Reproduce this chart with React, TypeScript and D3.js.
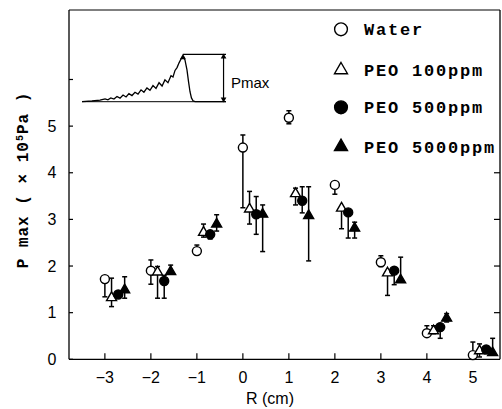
import React from "react";
import * as d3 from "d3";

const positions = [-3, -2, -1, 0, 1, 2, 3, 4, 5];
const xTicks = [-3, -2, -1, 0, 1, 2, 3, 4, 5];
const yTicks = [0, 1, 2, 3, 4, 5, 6];
const yTickLabels = ["0", "1", "2", "3", "4", "5", ""];

const waterVal = [1.72, 1.9, 2.32, 4.54, 5.18, 3.74, 2.08, 0.56, 0.09];
const waterLo = [1.34, 1.61, 2.32, 3.25, 5.05, 3.54, 1.99, 0.56, 0.0];
const waterHi = [1.72, 2.13, 2.45, 4.81, 5.33, 3.74, 2.22, 0.72, 0.37];

const peo100Val = [1.32, 1.87, 2.72, 3.22, 3.55, 3.24, 1.85, 0.61, 0.18];
const peo100Lo = [1.13, 1.31, 2.62, 2.9, 3.31, 2.8, 1.37, 0.55, 0.05];
const peo100Hi = [1.74, 1.99, 2.9, 3.6, 3.67, 3.24, 1.9, 0.72, 0.33];

const peo500Val = [1.39, 1.68, 2.68, 3.11, 3.4, 3.15, 1.9, 0.69, 0.21];
const peo500Lo = [1.39, 1.31, 2.58, 2.68, 3.14, 2.6, 1.6, 0.45, 0.21];
const peo500Hi = [1.39, 1.8, 2.75, 3.49, 3.7, 3.15, 1.95, 0.72, 0.21];

const peo5000Val = [1.49, 1.88, 2.9, 3.11, 3.08, 2.81, 1.7, 0.88, 0.14];
const peo5000Lo = [1.31, 1.88, 2.75, 2.31, 2.11, 2.6, 1.7, 0.8, 0.14];
const peo5000Hi = [1.77, 2.02, 3.1, 3.31, 3.7, 2.94, 2.19, 0.98, 0.45];

const seriesNames = ["Water", "PEO 100ppm", "PEO 500ppm", "PEO 5000ppm"];
const seriesOffsets = [0, 0.145, 0.29, 0.43];
const seriesShapes = ["circle", "triangle", "circle", "triangle"];
const seriesFilled = [false, false, true, true];

// inset waveform (arbitrary time 0..100, normalized pressure 0..1)
const insetT = [0, 6.9, 12.5, 16, 18, 20, 22.2, 24.3, 26.4, 28.5, 30.6, 32.6, 34.7, 36.8, 38.9, 41, 43, 45.1, 47.2, 49.3, 51.4, 53.5, 55.6, 57.6, 59.7, 61.8, 63.2, 64.6, 66, 67.4, 68.75, 70.1, 71.5, 72.9, 74, 75, 76, 77.1, 78.5, 100];
const insetP = [0, 0.015, 0.035, 0.06, 0.04, 0.08, 0.055, 0.11, 0.075, 0.14, 0.1, 0.17, 0.13, 0.2, 0.16, 0.25, 0.2, 0.29, 0.24, 0.34, 0.28, 0.4, 0.33, 0.46, 0.4, 0.55, 0.52, 0.66, 0.72, 0.82, 0.9, 0.96, 0.88, 0.67, 0.42, 0.21, 0.08, 0.02, 0, 0];
const pmaxStartT = 70;
const pmaxArrowT = 98.3;

const W = 502;
const H = 409;

export default function App() {
  const x = d3.scaleLinear().domain([-3.78, 5.59]).range([69, 500]);
  const y = d3.scaleLinear().domain([0, 7.49]).range([359.3, 10]);
  const tI = d3.scaleLinear().domain([0, 100]).range([82, 226]);
  const pI = d3.scaleLinear().domain([0, 1]).range([101.7, 54.3]);

  const vals = [waterVal, peo100Val, peo500Val, peo5000Val];
  const los = [waterLo, peo100Lo, peo500Lo, peo5000Lo];
  const his = [waterHi, peo100Hi, peo500Hi, peo5000Hi];

  const tri = d3.symbol().type(d3.symbolTriangle);
  const line = d3
    .line<number>()
    .x((_, i) => tI(insetT[i]))
    .y((d) => pI(d))
    .curve(d3.curveLinear);

  const marker = (shape: string, filled: boolean, cx: number, cy: number, r: number, side: number, key: string) => {
    if (shape === "circle") {
      return (
        <circle key={key} cx={cx} cy={cy} r={r} fill={filled ? "#000" : "#fff"} stroke="#000" strokeWidth={1.4} />
      );
    }
    const size = (Math.sqrt(3) / 4) * side * side;
    return (
      <path
        key={key}
        d={tri.size(size)() as string}
        transform={`translate(${cx},${cy})`}
        fill={filled ? "#000" : "#fff"}
        stroke="#000"
        strokeWidth={1.4}
      />
    );
  };

  const legendY = [29.3, 70, 107.3, 146.7];

  return (
    <svg
      width={W}
      height={H}
      style={{ position: "absolute", left: 0, top: 0, background: "#fff" }}
      fontFamily="'Liberation Sans', Arial, sans-serif"
    >
      <rect x={0} y={0} width={W} height={H} fill="#fff" />
      {/* frame */}
      <g stroke="#000" strokeWidth={1.3} fill="none">
        <line x1={x(-3.78)} x2={x(5.59)} y1={y(0)} y2={y(0)} />
        <line x1={x(-3.78)} x2={x(-3.78)} y1={y(0)} y2={y(7.49)} />
        <line x1={x(-3.78)} x2={x(5.59)} y1={y(7.49)} y2={y(7.49)} strokeWidth={1} />
        <line x1={x(5.59)} x2={x(5.59)} y1={y(0)} y2={y(7.49)} />
      </g>
      {/* ticks */}
      <g stroke="#000" strokeWidth={1.2}>
        {xTicks.map((t) => (
          <line key={t} x1={x(t)} x2={x(t)} y1={y(0)} y2={y(0) - 6} />
        ))}
        {yTicks.map((t) => (
          <line key={"l" + t} x1={x(-3.78)} x2={x(-3.78) + 4} y1={y(t)} y2={y(t)} />
        ))}
        {yTicks.slice(1, 5).map((t) => (
          <line key={"r" + t} x1={x(5.59)} x2={x(5.59) - 6} y1={y(t)} y2={y(t)} />
        ))}
      </g>
      <g fontSize={16} fill="#000" textAnchor="middle">
        {xTicks.map((t) => (
          <text key={t} x={x(t)} y={383}>
            {t < 0 ? "\u2212" + Math.abs(t) : String(t)}
          </text>
        ))}
        {yTicks.map((t, i) => (
          <text key={"y" + t} x={52} y={y(t)} dominantBaseline="central">
            {yTickLabels[i]}
          </text>
        ))}
        <text x={270} y={404}>
          R (cm)
        </text>
      </g>
      <text
        transform={`translate(28,180) rotate(-90)`}
        textAnchor="middle"
        fontFamily="'Liberation Mono', monospace"
        fontWeight="bold"
        fontSize={16}
        letterSpacing={1}
      >
        P max ( × 10<tspan dy={-5} fontSize={10}>5</tspan>
        <tspan dy={5}>Pa )</tspan>
      </text>

      {/* inset */}
      <g fill="none" stroke="#000">
        <line x1={tI(0)} x2={tI(100)} y1={pI(0)} y2={pI(0)} strokeWidth={1} />
        <path d={line(insetP) as string} strokeWidth={1.3} />
        <line x1={tI(pmaxStartT)} x2={tI(100)} y1={pI(1)} y2={pI(1)} strokeWidth={1.2} />
        <line x1={tI(pmaxArrowT)} x2={tI(pmaxArrowT)} y1={pI(1)} y2={pI(0)} strokeWidth={1.2} />
      </g>
      <path
        d={d3.symbol().type(d3.symbolTriangle).size(14)() as string}
        transform={`translate(${tI(pmaxArrowT)},${pI(1) + 2.5})`}
        fill="#000"
      />
      <path
        d={d3.symbol().type(d3.symbolTriangle).size(14)() as string}
        transform={`translate(${tI(pmaxArrowT)},${pI(0) - 2.5}) rotate(180)`}
        fill="#000"
      />
      <path
        d={d3.symbol().type(d3.symbolTriangle).size(16)() as string}
        transform={`translate(${tI(70.1)},${pI(0.93)})`}
        fill="#000"
      />
      <text x={231} y={88} fontSize={15}>
        Pmax
      </text>

      {/* error bars */}
      <g stroke="#000" strokeWidth={1.5}>
        {vals.map((sv, s) =>
          positions.map((r, i) => {
            const cx = x(r + seriesOffsets[s]);
            const lo = los[s][i];
            const hi = his[s][i];
            const v = sv[i];
            return (
              <g key={s + "-" + i}>
                {hi > v + 0.001 && (
                  <>
                    <line x1={cx} x2={cx} y1={y(v)} y2={y(hi)} />
                    <line x1={cx - 2.5} x2={cx + 2.5} y1={y(hi)} y2={y(hi)} />
                  </>
                )}
                {lo < v - 0.001 && (
                  <>
                    <line x1={cx} x2={cx} y1={y(v)} y2={y(lo)} />
                    <line x1={cx - 2.5} x2={cx + 2.5} y1={y(lo)} y2={y(lo)} />
                  </>
                )}
              </g>
            );
          })
        )}
      </g>
      {/* markers */}
      <g>
        {vals.map((sv, s) =>
          positions.map((r, i) =>
            marker(seriesShapes[s], seriesFilled[s], x(r + seriesOffsets[s]), y(sv[i]), 4.5, 10, "m" + s + "-" + i)
          )
        )}
      </g>

      {/* legend */}
      <g>
        {seriesNames.map((n, s) => (
          <g key={n}>
            {marker(seriesShapes[s], seriesFilled[s], 341, legendY[s], 6.4, 13, "lg" + s)}
            <text
              x={364}
              y={legendY[s] + 6}
              fontFamily="'Liberation Mono', monospace"
              fontWeight="bold"
              fontSize={17}
              letterSpacing={1.8}
            >
              {n}
            </text>
          </g>
        ))}
      </g>
    </svg>
  );
}
